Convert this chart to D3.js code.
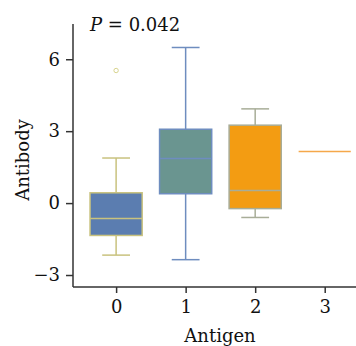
<!DOCTYPE html>
<html>
<head>
<meta charset="utf-8">
<script src="https://cdn.jsdelivr.net/npm/d3@7"></script>
<style>
  body { margin: 0; background: #fff; }
</style>
</head>
<body>
<div id="chart"></div>
<script>
// box stats
var groups = [0, 1, 2, 3];
var q1 = [-1.35, 0.39, -0.23, 2.15];
var medians = [-0.64, 1.86, 0.53, 2.15];
var q3 = [0.43, 3.08, 3.25, 2.15];
var whiskerLo = [-2.17, -2.36, -0.6, 2.15];
var whiskerHi = [1.88, 6.49, 3.93, 2.15];
var outliers = [[5.53], [], [], []];
var yTicks = [-3, 0, 3, 6];
var fills = ["#5b7db0", "#6a9590", "#f39c12", "#f5a84a"];
var strokes = ["#c9c27e", "#6e8dbf", "#a8ad98", "#f5a84a"];

var serif = "'DejaVu Serif', serif";

var width = 356, height = 346;
var svg = d3.select("#chart").append("svg")
  .attr("width", width)
  .attr("height", height)
  .style("font-family", serif);

var x = d3.scaleLinear().domain([-0.62, 3.45]).range([73, 356]);
var y = d3.scaleLinear().domain([-3.5, 7.47]).range([287, 24]);

var boxW = 0.75, capW = 0.4;

var g = svg.append("g");

groups.forEach(function(d, i) {
  var cx = x(d);
  var half = (x(boxW / 2) - x(0));
  var cap = (x(capW / 2) - x(0));
  var grp = g.append("g");

  if (q3[i] > q1[i]) {
    // whiskers
    grp.append("line")
      .attr("x1", cx).attr("x2", cx)
      .attr("y1", y(q3[i])).attr("y2", y(whiskerHi[i]))
      .attr("stroke", strokes[i]).attr("stroke-width", 1.5);
    grp.append("line")
      .attr("x1", cx).attr("x2", cx)
      .attr("y1", y(q1[i])).attr("y2", y(whiskerLo[i]))
      .attr("stroke", strokes[i]).attr("stroke-width", 1.5);
    grp.append("line")
      .attr("x1", cx - cap).attr("x2", cx + cap)
      .attr("y1", y(whiskerHi[i])).attr("y2", y(whiskerHi[i]))
      .attr("stroke", strokes[i]).attr("stroke-width", 1.5);
    grp.append("line")
      .attr("x1", cx - cap).attr("x2", cx + cap)
      .attr("y1", y(whiskerLo[i])).attr("y2", y(whiskerLo[i]))
      .attr("stroke", strokes[i]).attr("stroke-width", 1.5);
    grp.append("rect")
      .attr("x", cx - half)
      .attr("width", half * 2)
      .attr("y", y(q3[i]))
      .attr("height", y(q1[i]) - y(q3[i]))
      .attr("fill", fills[i])
      .attr("stroke", strokes[i]).attr("stroke-width", 1.5);
  }
  // median
  grp.append("line")
    .attr("x1", cx - half).attr("x2", cx + half)
    .attr("y1", y(medians[i])).attr("y2", y(medians[i]))
    .attr("stroke", strokes[i]).attr("stroke-width", 1.5);

  outliers[i].forEach(function(v) {
    grp.append("circle")
      .attr("cx", cx).attr("cy", y(v)).attr("r", 2.2)
      .attr("fill", "none")
      .attr("stroke", "#d8d48f").attr("stroke-width", 1);
  });
});

// axes
var yAxis = svg.append("g")
  .attr("transform", "translate(73,0)")
  .call(d3.axisLeft(y).tickValues(yTicks).tickSize(7).tickPadding(6)
    .tickFormat(function(d) { return d < 0 ? "\u2212" + Math.abs(d) : d; }));
var xAxis = svg.append("g")
  .attr("transform", "translate(0,287)")
  .call(d3.axisBottom(x).tickValues(groups).tickSize(6).tickPadding(7)
    .tickFormat(d3.format("d")));

[yAxis, xAxis].forEach(function(ax) {
  ax.attr("font-family", serif).attr("font-size", 18);
  ax.select(".domain").attr("stroke", "#333").attr("stroke-width", 1.5);
  ax.selectAll(".tick line").attr("stroke", "#333").attr("stroke-width", 1.5);
  ax.selectAll(".tick text").attr("fill", "#111");
});
yAxis.select(".domain").attr("d", "M0,24V287");
xAxis.select(".domain").attr("d", "M73,0H356");

svg.append("text")
  .attr("transform", "translate(29,160) rotate(-90)")
  .attr("text-anchor", "middle")
  .attr("font-family", serif)
  .attr("font-size", 18)
  .attr("fill", "#111")
  .text("Antibody");

svg.append("text")
  .attr("x", 220).attr("y", 342)
  .attr("text-anchor", "middle")
  .attr("font-family", serif)
  .attr("font-size", 18)
  .attr("fill", "#111")
  .text("Antigen");

var title = svg.append("text")
  .attr("x", 90).attr("y", 31)
  .attr("font-family", serif)
  .attr("font-size", 18)
  .attr("fill", "#111");
title.append("tspan").attr("font-style", "italic").text("P");
title.append("tspan").text(" = 0.042");
</script>
</body>
</html>
